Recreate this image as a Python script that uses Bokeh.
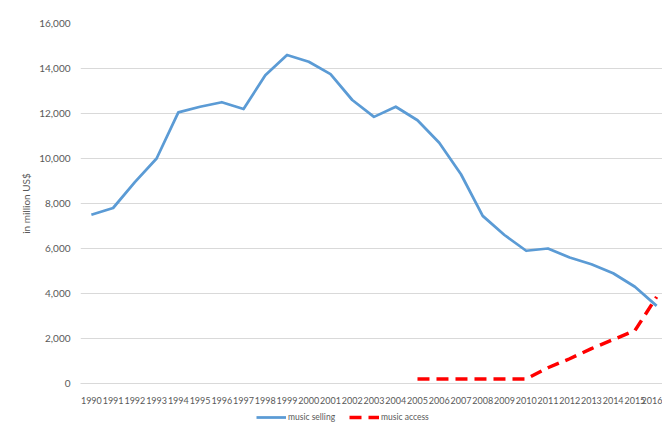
from bokeh.plotting import figure
from bokeh.layouts import column
from bokeh.models import NumeralTickFormatter, Legend, LegendItem, FixedTicker, Range1d
from bokeh.embed import file_html
from bokeh.resources import INLINE

years = list(range(1990, 2017))
music_selling = [7500, 7800, 8950, 10000, 12050, 12300, 12500, 12200, 13700, 14600,
                 14300, 13750, 12600, 11850, 12300, 11700, 10700, 9300, 7450, 6600,
                 5900, 6000, 5600, 5300, 4900, 4300, 3450]
access_years = list(range(2005, 2017))
music_access = [200, 200, 200, 200, 200, 200, 700, 1100, 1550, 1950, 2350, 3850]
y_ticks = [0, 2000, 4000, 6000, 8000, 10000, 12000, 14000, 16000]
series_names = ["music selling", "music access"]

FONT = "Lato"
TXT = "#595959"
BLUE = "#5b9bd5"
RED = "#ff0000"

p = figure(width=662, height=406, output_backend="svg", toolbar_location=None,
           x_range=Range1d(1989.5, 2016.27), y_range=Range1d(0, 16000))
p.min_border_top = 23
p.min_border_left = 80
p.min_border_right = 0
p.min_border_bottom = 23
p.outline_line_color = None
p.background_fill_color = "white"
p.border_fill_color = "white"

p.line(years, music_selling, line_color=BLUE, line_width=2.75, line_join="round")
p.line(access_years, music_access, line_color=RED, line_width=3.5,
       line_dash="12 7", line_cap="butt")

p.xaxis.ticker = FixedTicker(ticks=years)
p.xaxis.major_tick_line_color = None
p.xaxis.minor_tick_line_color = None
p.xaxis.axis_line_color = "#d9d9d9"
p.xaxis.major_label_text_font = FONT
p.xaxis.major_label_text_font_size = "9px"
p.xaxis.major_label_text_color = TXT
p.xaxis.major_label_standoff = 7

p.yaxis.ticker = FixedTicker(ticks=y_ticks)
p.yaxis.formatter = NumeralTickFormatter(format="0,0")
p.yaxis.major_tick_line_color = None
p.yaxis.minor_tick_line_color = None
p.yaxis.axis_line_color = None
p.yaxis.major_label_text_font = FONT
p.yaxis.major_label_text_font_size = "10px"
p.yaxis.major_label_text_color = TXT
p.yaxis.major_label_standoff = 4
p.yaxis.axis_label = "in million US$"
p.yaxis.axis_label_text_font = FONT
p.yaxis.axis_label_text_font_size = "10px"
p.yaxis.axis_label_text_font_style = "normal"
p.yaxis.axis_label_text_color = TXT
p.yaxis.axis_label_standoff = 4

p.xgrid.grid_line_color = None
p.ygrid.grid_line_color = "#d9d9d9"
p.ygrid.grid_line_width = 1

# legend strip below the chart; its sample lines lie outside its view
p2 = figure(width=662, height=20, output_backend="svg", toolbar_location=None,
            x_range=Range1d(0, 1), y_range=Range1d(0, 1),
            x_axis_location=None, y_axis_location=None)
p2.grid.visible = False
p2.outline_line_color = None
p2.min_border = 0
p2.background_fill_color = "white"
p2.border_fill_color = "white"
d1 = p2.line(years, music_selling, line_color=BLUE, line_width=2.75)
d2 = p2.line(access_years, music_access, line_color=RED, line_width=3.5,
             line_dash="12 7", line_cap="butt")

legend = Legend(items=[LegendItem(label=series_names[0], renderers=[d1]),
                       LegendItem(label=series_names[1], renderers=[d2])],
                orientation="horizontal", location=(176, 4))
legend.label_text_font = FONT
legend.label_text_font_size = "8.5px"
legend.label_text_color = TXT
legend.glyph_width = 30
legend.glyph_height = 10
legend.label_standoff = 2
legend.label_height = 10
legend.spacing = 14
legend.padding = 4
legend.margin = 0
legend.border_line_color = None
legend.background_fill_alpha = 0
p2.add_layout(legend, "center")

open("out.html", "w").write(file_html(column(p, p2, spacing=0), INLINE))
